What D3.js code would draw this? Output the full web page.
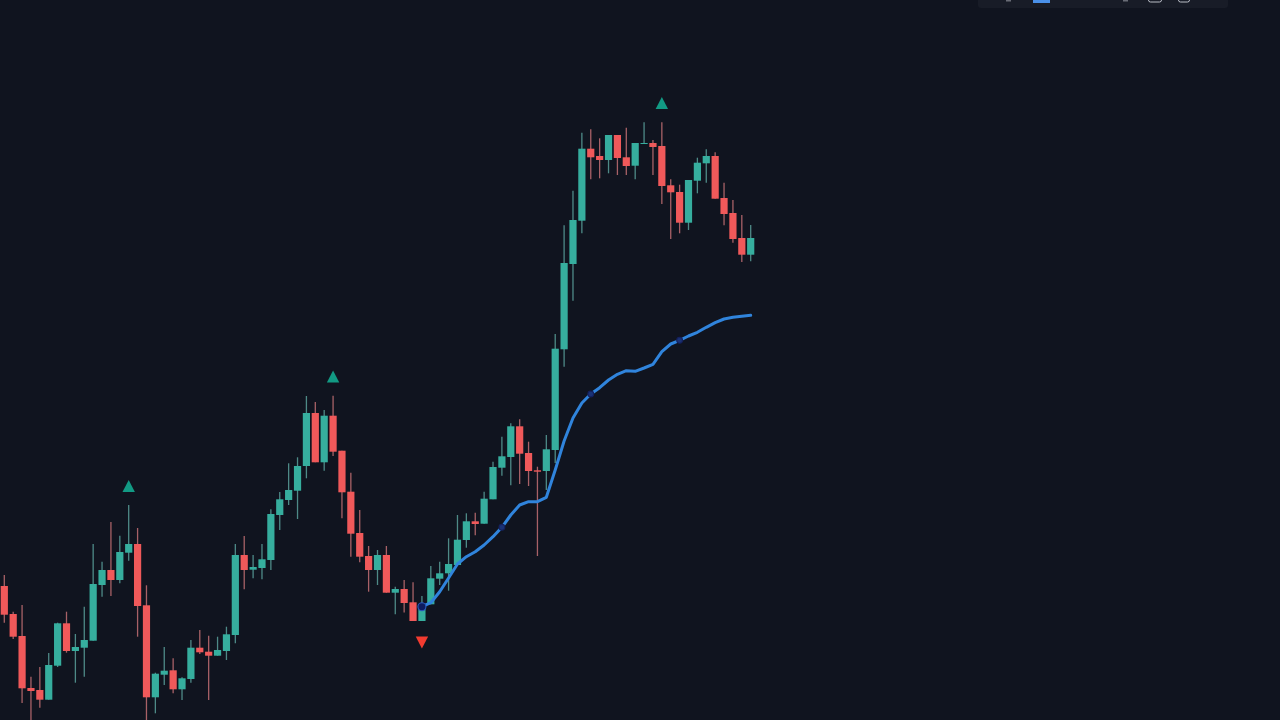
<!DOCTYPE html>
<html><head><meta charset="utf-8">
<script src="https://cdn.jsdelivr.net/npm/d3@7"></script>
<style>html,body{margin:0;padding:0;background:#10141f;overflow:hidden}svg{display:block}</style>
</head><body><svg id="c" width="1280" height="720"></svg>
<script>
const opens=[134,106,84,32,30,20.3,54.3,96.7,69,72.3,79.3,135,150,140,167.3,176,114.7,22.7,45.3,49.7,30.7,41,72.3,68.3,64.3,69,85,165,150.3,152,160,205,220,229.3,254,307,257.7,304.3,269.3,228.3,187,164,150,165,127.3,131,117.7,99,115.7,141.3,146.7,155,180,198.7,196.3,220.7,252.3,263,293.7,267,249.7,249,270,370.7,456,499.3,571.3,564,560,585,562.7,554.3,576.3,577,574,534.7,528,497.3,539.3,556.7,564,522,507,482,465.3];
const highs=[145,108.3,115,43.3,53,67,97.3,108.3,86,113.3,176,158.3,198,184.3,215,192,134.7,47.3,73,61.7,42.7,80,90,84.3,83.3,93.3,176,184,165,176,210.7,228,256.7,262.7,324,318,310,324.3,269.3,247.3,210,174,170,174,133.3,140,137.7,124,154,158.3,181.7,205,206.7,207.3,228.3,258.3,283.3,296.7,300.7,278.3,253.3,285,386,494.7,529.3,587.3,590.7,581.7,585,585,592.3,577,597.7,580,597.7,540.7,535.3,540,562.3,570.7,567.7,537.3,520,505,495];
const lows=[97.3,81,17,-2,12.3,20.3,53,67.3,37.3,43.3,79.3,123.3,124,136.7,159.3,83.3,-2,6.7,35,26.7,20,37.3,66,20,64.3,60,76.7,130.7,141.7,140.7,150,190,215,201,241.7,257.7,249.3,264,201.7,163.3,157.7,128.3,135,127.3,105.7,107.5,99,99,115.7,135,129.3,155,172.3,184.7,196.3,220.7,244.3,234.7,236,234,164,230,257,353.3,419.3,486.7,540.7,541.7,546.7,545,545,540.7,576.3,545,516,481,486.7,490,526.7,537.3,521.3,494.7,477.3,458,458.7];
const closes=[105.3,83.3,31.7,29,20.3,55,96.7,69,73,80,136,150,140,168,176,114,22.7,46.3,49.3,30.7,41.7,72.3,67.7,64.3,70,85.7,165,150,153,160.7,206,220.7,230,254,307,257.7,304.3,268.3,227.7,186.3,163.3,150,165,127.3,131,117,99,113.3,141.7,146.7,156,180.3,198.7,196,221.3,253,263.7,293.7,266.3,249,248.3,270.7,371.3,457,500,571.3,562.7,560,585,562,554,577,577,573,534,527.7,497.3,540,557.3,564,521.3,506,481,465.3,482];
const averageStart=47;
const average=[113.3,117.3,128.3,142,156,163.3,168.3,175,183.3,192.7,205,215,218.3,218.3,222.7,250,279,302,317,326,332.3,340,345.7,349.3,348.7,352,355.7,368.3,376,379.7,384,387.7,392.7,397.3,401,402.7,403.7,404.7];
const upSignalBars=[14,37,74];
const upSignalPrices=[234,343.5,617];
const downSignalBars=[47];
const downSignalPrices=[77.5];
const pivotBars=[47,56,66,76];

const svg=d3.select('#c');
const x=d3.scaleLinear().domain([0,84]).range([4.3,750.7]);
const y=d3.scaleLinear().domain([0,720]).range([720,0]);
const GREEN='#36ae9e',RED='#f0595a';
const bars=d3.range(opens.length).map(i=>({i,o:opens[i],h:highs[i],l:lows[i],c:closes[i]}));
const col=d=>d.c>=d.o?GREEN:RED;

// toolbar fragment at the top edge
const tb=svg.append('g');
tb.append('rect').attr('x',978).attr('y',-6).attr('width',250).attr('height',14).attr('rx',3).attr('fill','#181c27');
tb.append('rect').attr('x',1033).attr('y',0).attr('width',17).attr('height',3).attr('fill','#4a90e8');
[[1148.5,13],[1178.5,11]].forEach(([a,w])=>tb.append('rect').attr('x',a).attr('y',-6).attr('width',w).attr('height',8).attr('rx',2).attr('fill','none').attr('stroke','#b9bdc6').attr('stroke-width',1));
[[1006,5],[1123,5]].forEach(([a,w])=>tb.append('rect').attr('x',a).attr('y',0).attr('width',w).attr('height',1.5).attr('fill','#8b8f99').attr('opacity',.7));

svg.append('g').selectAll('line').data(bars).join('line')
 .attr('x1',d=>x(d.i)).attr('x2',d=>x(d.i))
 .attr('y1',d=>y(d.h)).attr('y2',d=>y(d.l))
 .attr('stroke',d=>d3.interpolateRgb(col(d),'#9a9ea8')(.4)).attr('stroke-width',1.3).attr('opacity',.8);
svg.append('g').selectAll('rect').data(bars).join('rect')
 .attr('x',d=>x(d.i)-3.6).attr('width',7.2)
 .attr('y',d=>y(Math.max(d.o,d.c)))
 .attr('height',d=>Math.max(1,Math.abs(y(d.o)-y(d.c))))
 .attr('fill',col);

const lineGen=d3.line().x((v,k)=>x(averageStart+k)).y(v=>y(v)).curve(d3.curveLinear);
svg.append('path').attr('d',lineGen(average)).attr('fill','none').attr('stroke','#3084dc').attr('stroke-width',3).attr('stroke-linecap','round').attr('stroke-linejoin','round');

svg.append('g').selectAll('circle').data(pivotBars).join('circle')
 .attr('cx',d=>x(d)).attr('cy',d=>y(average[d-averageStart]))
 .attr('r',(d,k)=>k===0?4:2.9)
 .attr('fill',(d,k)=>k===0?'#0d1c5e':'#1a3275')
 .attr('stroke',(d,k)=>k===0?'#2a5ac0':'#14205c').attr('stroke-width',1.1);

const tri=d3.line();
const triPts=(s)=>[[-6.2,6.1*s],[6.2,6.1*s],[0,-6.1*s]];
svg.append('g').selectAll('path').data(upSignalBars).join('path')
 .attr('d',tri(triPts(1))+'Z').attr('fill','#129a84')
 .attr('transform',(d,k)=>`translate(${x(d)},${y(upSignalPrices[k])})`);
svg.append('g').selectAll('path').data(downSignalBars).join('path')
 .attr('d',tri(triPts(-1))+'Z').attr('fill','#f23b30')
 .attr('transform',(d,k)=>`translate(${x(d)},${y(downSignalPrices[k])})`);
</script></body></html>
